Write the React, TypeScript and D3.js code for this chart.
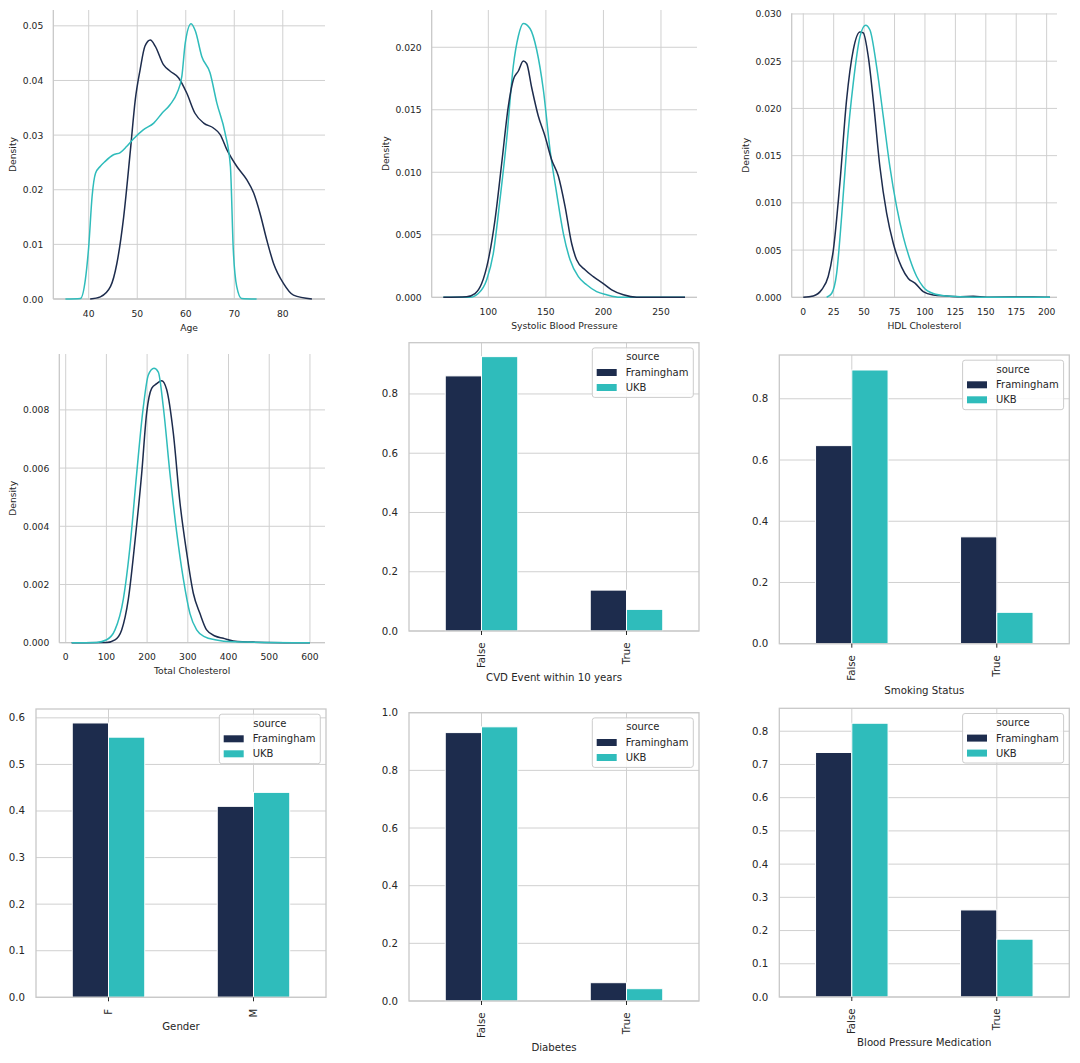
import * as d3 from "d3";

const NAVY = "#1d2c4d";
const TEAL = "#2fbcbb";
const TEXT = "#262626";
const GRID = "#d0d0d0";

// ---- density data ----
const ageFramX = [40.3, 42.4, 44.5, 45.8, 47.2, 48.6, 49.6, 50.6, 51.6, 52.7, 53.7, 55.4, 56.8, 58.5, 60.2, 61.9, 63.7, 65.7, 67.1, 68.5, 70.5, 72.6, 74.0, 75.3, 76.7, 78.1, 80.1, 82.2, 86];
const ageFramY = [0, 0.0004, 0.0023, 0.0065, 0.015, 0.0273, 0.0365, 0.042, 0.0463, 0.0474, 0.0463, 0.0429, 0.0417, 0.0405, 0.0377, 0.034, 0.0322, 0.0313, 0.0301, 0.0273, 0.0243, 0.0218, 0.0194, 0.0157, 0.0108, 0.0065, 0.0029, 0.0007, 0];
const ageUkbX = [35.2, 38.3, 39.3, 40, 40.7, 41.4, 42.4, 43.4, 45.1, 46.5, 47.8, 49.2, 51.3, 53.4, 55.1, 56.8, 58.2, 59.2, 59.9, 61.1, 62, 63.3, 65, 66.4, 68.1, 69.2, 69.8, 70.5, 71.5, 74.6];
const ageUkbY = [0, 0.0001, 0.0035, 0.0096, 0.0188, 0.023, 0.0243, 0.0252, 0.0264, 0.0268, 0.0279, 0.0293, 0.031, 0.0322, 0.034, 0.0356, 0.0377, 0.0408, 0.0469, 0.0504, 0.049, 0.0444, 0.0414, 0.0359, 0.0304, 0.0243, 0.009, 0.0023, 0.0001, 0];

const sbpFramX = [60.9, 81.2, 88.4, 94.2, 100, 105.8, 111.6, 117.4, 121.7, 126.1, 130.4, 133.3, 137.6, 143.4, 149.2, 155, 160.8, 166.6, 172.4, 176.7, 184, 191.2, 199.9, 207.2, 217.3, 228.9, 270.9];
const sbpFramY = [0, 0.00005, 0.0003, 0.0011, 0.003, 0.0062, 0.0107, 0.0153, 0.0174, 0.0181, 0.0189, 0.0187, 0.0168, 0.0145, 0.0129, 0.011, 0.0097, 0.0073, 0.0043, 0.003, 0.0022, 0.00165, 0.0011, 0.0006, 0.0002, 0, 0];
const sbpUkbX = [60.9, 84, 91.3, 98.6, 104.3, 110.1, 115.9, 121.7, 126.1, 130.4, 136.2, 142, 147.8, 153.6, 159.4, 165.2, 171, 178.2, 185.4, 194.1, 202.8, 214.4, 270.9];
const sbpUkbY = [0, 0, 0.0003, 0.0014, 0.0035, 0.0078, 0.0126, 0.0185, 0.0209, 0.0219, 0.0215, 0.0198, 0.0166, 0.0118, 0.0083, 0.0051, 0.003, 0.00165, 0.001, 0.00045, 0.0002, 0, 0];

const hdlFramX = [0, 8.2, 15.1, 20.5, 24.7, 30.1, 35.6, 41.1, 46.6, 49.3, 53.4, 57.5, 63, 68.5, 74, 80.8, 86.3, 91.8, 98.6, 106.8, 117.8, 128.8, 139.7, 150.7, 189, 202.7];
const hdlFramY = [0, 0.00014, 0.0008, 0.0022, 0.005, 0.0121, 0.0209, 0.0262, 0.0281, 0.028, 0.0255, 0.0209, 0.0138, 0.0089, 0.0057, 0.0032, 0.002, 0.0015, 0.0006, 0.00025, 0.00014, 0.00007, 0.0001, 0, 0.00004, 0];
const hdlUkbX = [19.2, 23.3, 27.4, 31.5, 35.6, 41.1, 46.6, 51.2, 54.8, 60.3, 65.8, 71.2, 76.7, 82.2, 87.7, 93.2, 98.6, 106.8, 117.8, 128.8, 150.7, 202.7];
const hdlUkbY = [0, 0.0004, 0.0025, 0.0085, 0.0156, 0.0227, 0.0276, 0.0288, 0.0283, 0.0244, 0.0191, 0.0138, 0.0096, 0.0064, 0.004, 0.0022, 0.0011, 0.0004, 0.00014, 0.00007, 0, 0];

const tcFramX = [14.7, 100.7, 121.1, 137.5, 153.9, 170.3, 186.6, 198.9, 211.2, 223.5, 235.7, 248, 264.4, 280.8, 297.1, 313.5, 329.9, 346.2, 366.7, 387.2, 411.7, 460.8, 600];
const tcFramY = [0, 0.00001, 0.0001, 0.00044, 0.0015, 0.0035, 0.0058, 0.0079, 0.00874, 0.0089, 0.009, 0.0087, 0.0072, 0.0048, 0.0031, 0.0017, 0.001, 0.00044, 0.00023, 0.00015, 0.00006, 0.00002, 0];
const tcUkbX = [14.7, 76, 100.7, 121.1, 141.6, 158, 174.3, 190.7, 203, 216.9, 227.5, 239.8, 256.2, 272.6, 288.9, 305.3, 321.7, 342.1, 366.7, 411.7, 600];
const tcUkbY = [0, 0.00001, 0.0001, 0.00044, 0.0015, 0.0033, 0.0058, 0.0081, 0.0092, 0.00943, 0.0093, 0.0081, 0.0058, 0.0038, 0.0022, 0.001, 0.00044, 0.0002, 0.0001, 0.00003, 0];

// ---- bar data ----
const boolCats = ["False", "True"];
const genderCats = ["F", "M"];
const seriesNames = ["Framingham", "UKB"];
const cvdFram = [0.861, 0.138];
const cvdUkb = [0.926, 0.073];
const smokeFram = [0.647, 0.349];
const smokeUkb = [0.894, 0.1025];
const genderFram = [0.589, 0.41];
const genderUkb = [0.5585, 0.44];
const diabFram = [0.931, 0.0635];
const diabUkb = [0.951, 0.0427];
const bpFram = [0.736, 0.262];
const bpUkb = [0.824, 0.174];

// ---- ticks ----
const ageTicks = [40, 50, 60, 70, 80];
const ageYTicks = [0, 0.01, 0.02, 0.03, 0.04, 0.05];
const sbpTicks = [100, 150, 200, 250];
const sbpYTicks = [0, 0.005, 0.01, 0.015, 0.02];
const hdlTicks = [0, 25, 50, 75, 100, 125, 150, 175, 200];
const hdlYTicks = [0, 0.005, 0.01, 0.015, 0.02, 0.025, 0.03];
const tcTicks = [0, 100, 200, 300, 400, 500, 600];
const tcYTicks = [0, 0.002, 0.004, 0.006, 0.008];
const bar02Ticks = [0, 0.2, 0.4, 0.6, 0.8];
const bar01Ticks = [0, 0.1, 0.2, 0.3, 0.4, 0.5, 0.6];
const bar01TicksBp = [0, 0.1, 0.2, 0.3, 0.4, 0.5, 0.6, 0.7, 0.8];
const bar02TicksDiab = [0, 0.2, 0.4, 0.6, 0.8, 1.0];

type Box = { left: number; top: number; right: number; bottom: number };

const FONT = "DejaVu Sans, sans-serif";

function DensityPanel(p: {
  box: Box;
  xDomain: [number, number];
  yDomain: [number, number];
  xTicks: number[];
  yTicks: number[];
  yFmt: string;
  xLabel: string;
  yLabelX: number;
  series: { x: number[]; y: number[]; color: string }[];
}) {
  const { box } = p;
  const x = d3.scaleLinear().domain(p.xDomain).range([box.left, box.right]);
  const y = d3.scaleLinear().domain(p.yDomain).range([box.bottom, box.top]);
  const fmt = d3.format(p.yFmt);
  const line = d3
    .line<[number, number]>()
    .x((d) => x(d[0]))
    .y((d) => y(d[1]))
    .curve(d3.curveMonotoneX);
  const fs = 9.2;
  return (
    <g fontFamily={FONT} fill={TEXT}>
      {p.yTicks.map((t) => (
        <line key={"gy" + t} x1={box.left} x2={box.right} y1={y(t)} y2={y(t)} stroke={GRID} strokeWidth={1} />
      ))}
      {p.xTicks.map((t) => (
        <line key={"gx" + t} x1={x(t)} x2={x(t)} y1={box.top} y2={box.bottom} stroke={GRID} strokeWidth={1} />
      ))}
      <line x1={box.left} x2={box.left} y1={box.top} y2={box.bottom} stroke="#c8c8c8" strokeWidth={1.3} />
      <line x1={box.left} x2={box.right} y1={box.bottom} y2={box.bottom} stroke="#c8c8c8" strokeWidth={1.3} />
      {p.series.map((s, i) => (
        <path
          key={i}
          d={line(s.x.map((v, j) => [v, s.y[j]] as [number, number])) || ""}
          fill="none"
          stroke={s.color}
          strokeWidth={1.5}
        />
      ))}
      {p.yTicks.map((t) => (
        <text key={"ty" + t} x={box.left - 10} y={y(t)} fontSize={fs} textAnchor="end" dominantBaseline="central">
          {fmt(t)}
        </text>
      ))}
      {p.xTicks.map((t) => (
        <text key={"tx" + t} x={x(t)} y={box.bottom + 14} fontSize={fs} textAnchor="middle" dominantBaseline="central">
          {t}
        </text>
      ))}
      <text x={(box.left + box.right) / 2} y={box.bottom + 28} fontSize={fs} textAnchor="middle" dominantBaseline="central">
        {p.xLabel}
      </text>
      <text
        transform={`translate(${p.yLabelX},${(box.top + box.bottom) / 2}) rotate(-90)`}
        fontSize={fs}
        textAnchor="middle"
        dominantBaseline="central"
      >
        Density
      </text>
    </g>
  );
}

function BarPanel(p: {
  box: Box;
  yMax: number;
  yTicks: number[];
  cats: string[];
  fram: number[];
  ukb: number[];
  xLabel: string;
  labelOffset: number;
}) {
  const { box } = p;
  const x = d3.scaleLinear().domain([-0.5, p.cats.length - 0.5]).range([box.left, box.right]);
  const y = d3.scaleLinear().domain([0, p.yMax]).range([box.bottom, box.top]);
  const fmt = d3.format(".1f");
  const fs = 10.2;
  const bw = 0.25;
  const vals = [p.fram, p.ukb];
  const colors = [NAVY, TEAL];
  const lgW = 101;
  const lgH = 49.5;
  const lgX = box.right - 5.7 - lgW;
  const lgY = box.top + 5.2;
  return (
    <g fontFamily={FONT} fill={TEXT}>
      {p.yTicks.map((t) => (
        <line key={"gy" + t} x1={box.left} x2={box.right} y1={y(t)} y2={y(t)} stroke={GRID} strokeWidth={1} />
      ))}
      {p.cats.map((c, i) => (
        <line key={"gx" + c} x1={x(i)} x2={x(i)} y1={box.top} y2={box.bottom} stroke={GRID} strokeWidth={1} />
      ))}
      {vals.map((vs, s) =>
        vs.map((v, i) => {
          const x0 = x(i - bw + s * bw);
          const x1 = x(i + s * bw);
          return (
            <rect
              key={s + "-" + i}
              x={x0}
              y={y(v)}
              width={x1 - x0}
              height={y(0) - y(v)}
              fill={colors[s]}
              stroke="#ffffff"
              strokeWidth={1}
            />
          );
        })
      )}
      <rect
        x={box.left}
        y={box.top}
        width={box.right - box.left}
        height={box.bottom - box.top}
        fill="none"
        stroke="#c8c8c8"
        strokeWidth={1.3}
      />
      {p.cats.map((c, i) => (
        <g key={"tk" + c}>
          <line x1={x(i)} x2={x(i)} y1={box.bottom} y2={box.bottom + 4} stroke={TEXT} strokeWidth={1} />
          <text
            transform={`translate(${x(i)},${box.bottom + 11.5}) rotate(-90)`}
            fontSize={fs}
            textAnchor="end"
            dominantBaseline="central"
          >
            {c}
          </text>
        </g>
      ))}
      {p.yTicks.map((t) => (
        <text key={"ty" + t} x={box.left - 11} y={y(t)} fontSize={fs} textAnchor="end" dominantBaseline="central">
          {fmt(t)}
        </text>
      ))}
      <text
        x={(box.left + box.right) / 2}
        y={box.bottom + p.labelOffset}
        fontSize={fs}
        textAnchor="middle"
        dominantBaseline="central"
      >
        {p.xLabel}
      </text>
      <g transform={`translate(${lgX},${lgY})`}>
        <rect width={lgW} height={lgH} rx={2.5} fill="#ffffff" fillOpacity={0.85} stroke="#cccccc" strokeWidth={1} />
        <text x={lgW / 2} y={9} fontSize={10} textAnchor="middle" dominantBaseline="central">
          source
        </text>
        {seriesNames.map((n, i) => (
          <g key={n} transform={`translate(0,${24.6 + i * 15})`}>
            <rect x={4.4} y={-3.5} width={20} height={7} fill={colors[i]} />
            <text x={33.4} y={0} fontSize={10} dominantBaseline="central">
              {n}
            </text>
          </g>
        ))}
      </g>
    </g>
  );
}

export default function App() {
  return (
    <svg
      width={1080}
      height={1063}
      style={{ position: "absolute", left: 0, top: 0, background: "#ffffff" }}
    >
      <DensityPanel
        box={{ left: 53.3, top: 10, right: 325, bottom: 299 }}
        xDomain={[32.7, 88.7]}
        yDomain={[0, 0.0529]}
        xTicks={ageTicks}
        yTicks={ageYTicks}
        yFmt=".2f"
        xLabel="Age"
        yLabelX={12}
        series={[
          { x: ageFramX, y: ageFramY, color: NAVY },
          { x: ageUkbX, y: ageUkbY, color: TEAL },
        ]}
      />
      <DensityPanel
        box={{ left: 431.7, top: 10, right: 697, bottom: 297.3 }}
        xDomain={[50.8, 281.3]}
        yDomain={[0, 0.02298]}
        xTicks={sbpTicks}
        yTicks={sbpYTicks}
        yFmt=".3f"
        xLabel="Systolic Blood Pressure"
        yLabelX={385}
        series={[
          { x: sbpUkbX, y: sbpUkbY, color: TEAL },
          { x: sbpFramX, y: sbpFramY, color: NAVY },
        ]}
      />
      <DensityPanel
        box={{ left: 791.7, top: 13.3, right: 1057, bottom: 297.3 }}
        xDomain={[-9.5, 208.5]}
        yDomain={[0, 0.03007]}
        xTicks={hdlTicks}
        yTicks={hdlYTicks}
        yFmt=".3f"
        xLabel="HDL Cholesterol"
        yLabelX={745}
        series={[
          { x: hdlFramX, y: hdlFramY, color: NAVY },
          { x: hdlUkbX, y: hdlUkbY, color: TEAL },
        ]}
      />
      <DensityPanel
        box={{ left: 59.3, top: 354, right: 325, bottom: 642.7 }}
        xDomain={[-15.7, 637]}
        yDomain={[0, 0.00992]}
        xTicks={tcTicks}
        yTicks={tcYTicks}
        yFmt=".3f"
        xLabel="Total Cholesterol"
        yLabelX={12}
        series={[
          { x: tcFramX, y: tcFramY, color: NAVY },
          { x: tcUkbX, y: tcUkbY, color: TEAL },
        ]}
      />
      <BarPanel
        box={{ left: 409, top: 342.7, right: 699, bottom: 631 }}
        yMax={0.973}
        yTicks={bar02Ticks}
        cats={boolCats}
        fram={cvdFram}
        ukb={cvdUkb}
        xLabel="CVD Event within 10 years"
        labelOffset={46.3}
      />
      <BarPanel
        box={{ left: 779.3, top: 355, right: 1069.3, bottom: 643.7 }}
        yMax={0.943}
        yTicks={bar02Ticks}
        cats={boolCats}
        fram={smokeFram}
        ukb={smokeUkb}
        xLabel="Smoking Status"
        labelOffset={46.3}
      />
      <BarPanel
        box={{ left: 36, top: 709, right: 326, bottom: 997.3 }}
        yMax={0.619}
        yTicks={bar01Ticks}
        cats={genderCats}
        fram={genderFram}
        ukb={genderUkb}
        xLabel="Gender"
        labelOffset={29.4}
      />
      <BarPanel
        box={{ left: 409, top: 712.7, right: 699, bottom: 1001 }}
        yMax={1.0}
        yTicks={bar02TicksDiab}
        cats={boolCats}
        fram={diabFram}
        ukb={diabUkb}
        xLabel="Diabetes"
        labelOffset={46.3}
      />
      <BarPanel
        box={{ left: 779.3, top: 708.3, right: 1069.3, bottom: 997 }}
        yMax={0.869}
        yTicks={bar01TicksBp}
        cats={boolCats}
        fram={bpFram}
        ukb={bpUkb}
        xLabel="Blood Pressure Medication"
        labelOffset={45.7}
      />
    </svg>
  );
}
